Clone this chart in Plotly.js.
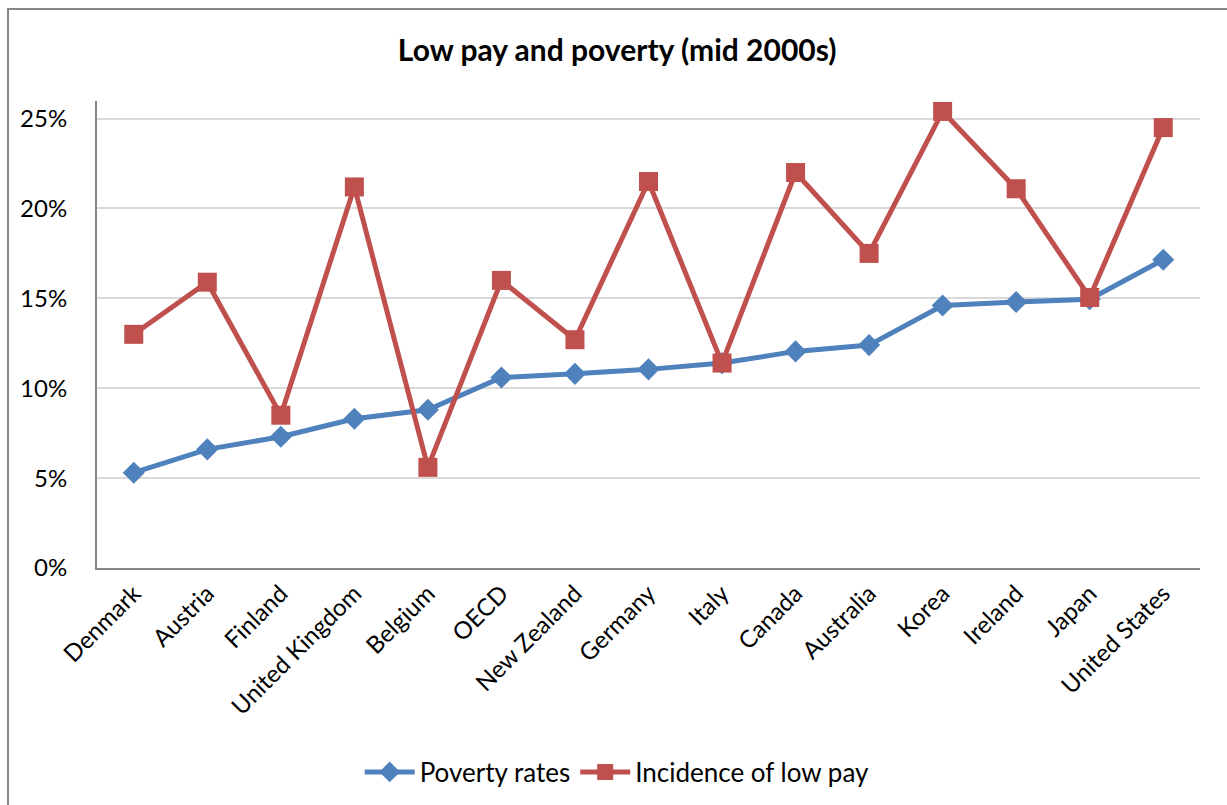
<!DOCTYPE html>
<html>
<head>
<meta charset="utf-8">
<script src="https://cdn.plot.ly/plotly-3.0.1.min.js"></script>
<style>
html,body{margin:0;padding:0;background:#fff;overflow:hidden;}
#chart{width:1227px;height:805px;position:absolute;left:0;top:0;}
#frame{position:absolute;left:7px;top:8px;width:1300px;height:900px;border-left:2px solid #878787;border-top:2px solid #878787;pointer-events:none;}
</style>
</head>
<body>
<div id="chart"></div>
<div id="frame"></div>
<script>
const countries = ["Denmark","Austria","Finland","United Kingdom","Belgium","OECD","New Zealand","Germany","Italy","Canada","Australia","Korea","Ireland","Japan","United States"];
const povertyRates = [5.3, 6.6, 7.3, 8.3, 8.8, 10.6, 10.8, 11.05, 11.4, 12.05, 12.4, 14.6, 14.8, 14.95, 17.15];
const lowPay = [13.0, 15.9, 8.5, 21.2, 5.6, 16.0, 12.7, 21.5, 11.4, 22.0, 17.5, 25.4, 21.1, 15.05, 24.5];
const yTickVals = [0, 5, 10, 15, 20, 25];
const yTickText = ["0%", "5%", "10%", "15%", "20%", "25%"];

const font = "Lato, 'Open Sans', sans-serif";
const traces = [
  {x: countries, y: povertyRates, name: "Poverty rates", type: "scatter", mode: "lines+markers",
   line: {color: "#4F81BD", width: 5}, marker: {symbol: "diamond", size: 17, color: "#4F81BD"}},
  {x: countries, y: lowPay, name: "Incidence of low pay", type: "scatter", mode: "lines+markers",
   line: {color: "#C0504D", width: 5}, marker: {symbol: "square", size: 19, color: "#C0504D"}}
];
const layout = {
  width: 1227, height: 805,
  margin: {l: 97, r: 27, t: 101, b: 237},
  paper_bgcolor: "#fff", plot_bgcolor: "#fff",
  font: {family: font, color: "#000", size: 24},
  title: {text: "<b>Low pay and poverty (mid 2000s)</b>", font: {family: font, size: 30, color: "#000"},
          x: 0.503, xref: "container", xanchor: "center", y: 1 - 50/805, yref: "container", yanchor: "middle"},
  xaxis: {type: "category", range: [-0.5, 14.5], tickangle: -45, showgrid: false,
          showline: true, linecolor: "#868686", linewidth: 2, ticks: "", fixedrange: true,
          tickfont: {family: font, size: 24, color: "#000"}},
  yaxis: {range: [0, 25.98], tickvals: yTickVals, ticktext: yTickText, showgrid: true,
          gridcolor: "#D9D9D9", gridwidth: 2, zeroline: false, showline: true, linecolor: "#868686",
          linewidth: 2, ticks: "", ticklen: 0, ticklabelstandoff: 23,
          tickfont: {family: font, size: 24, color: "#000"}},
  showlegend: true,
  legend: {orientation: "h", x: 0.503, xref: "container", xanchor: "center", y: 1 - 772/805, yref: "container",
           yanchor: "middle", font: {family: font, size: 26, color: "#000"}, itemwidth: 50, traceorder: "normal"}
};
Plotly.newPlot("chart", traces, layout, {displayModeBar: false, staticPlot: true});
</script>
</body>
</html>
